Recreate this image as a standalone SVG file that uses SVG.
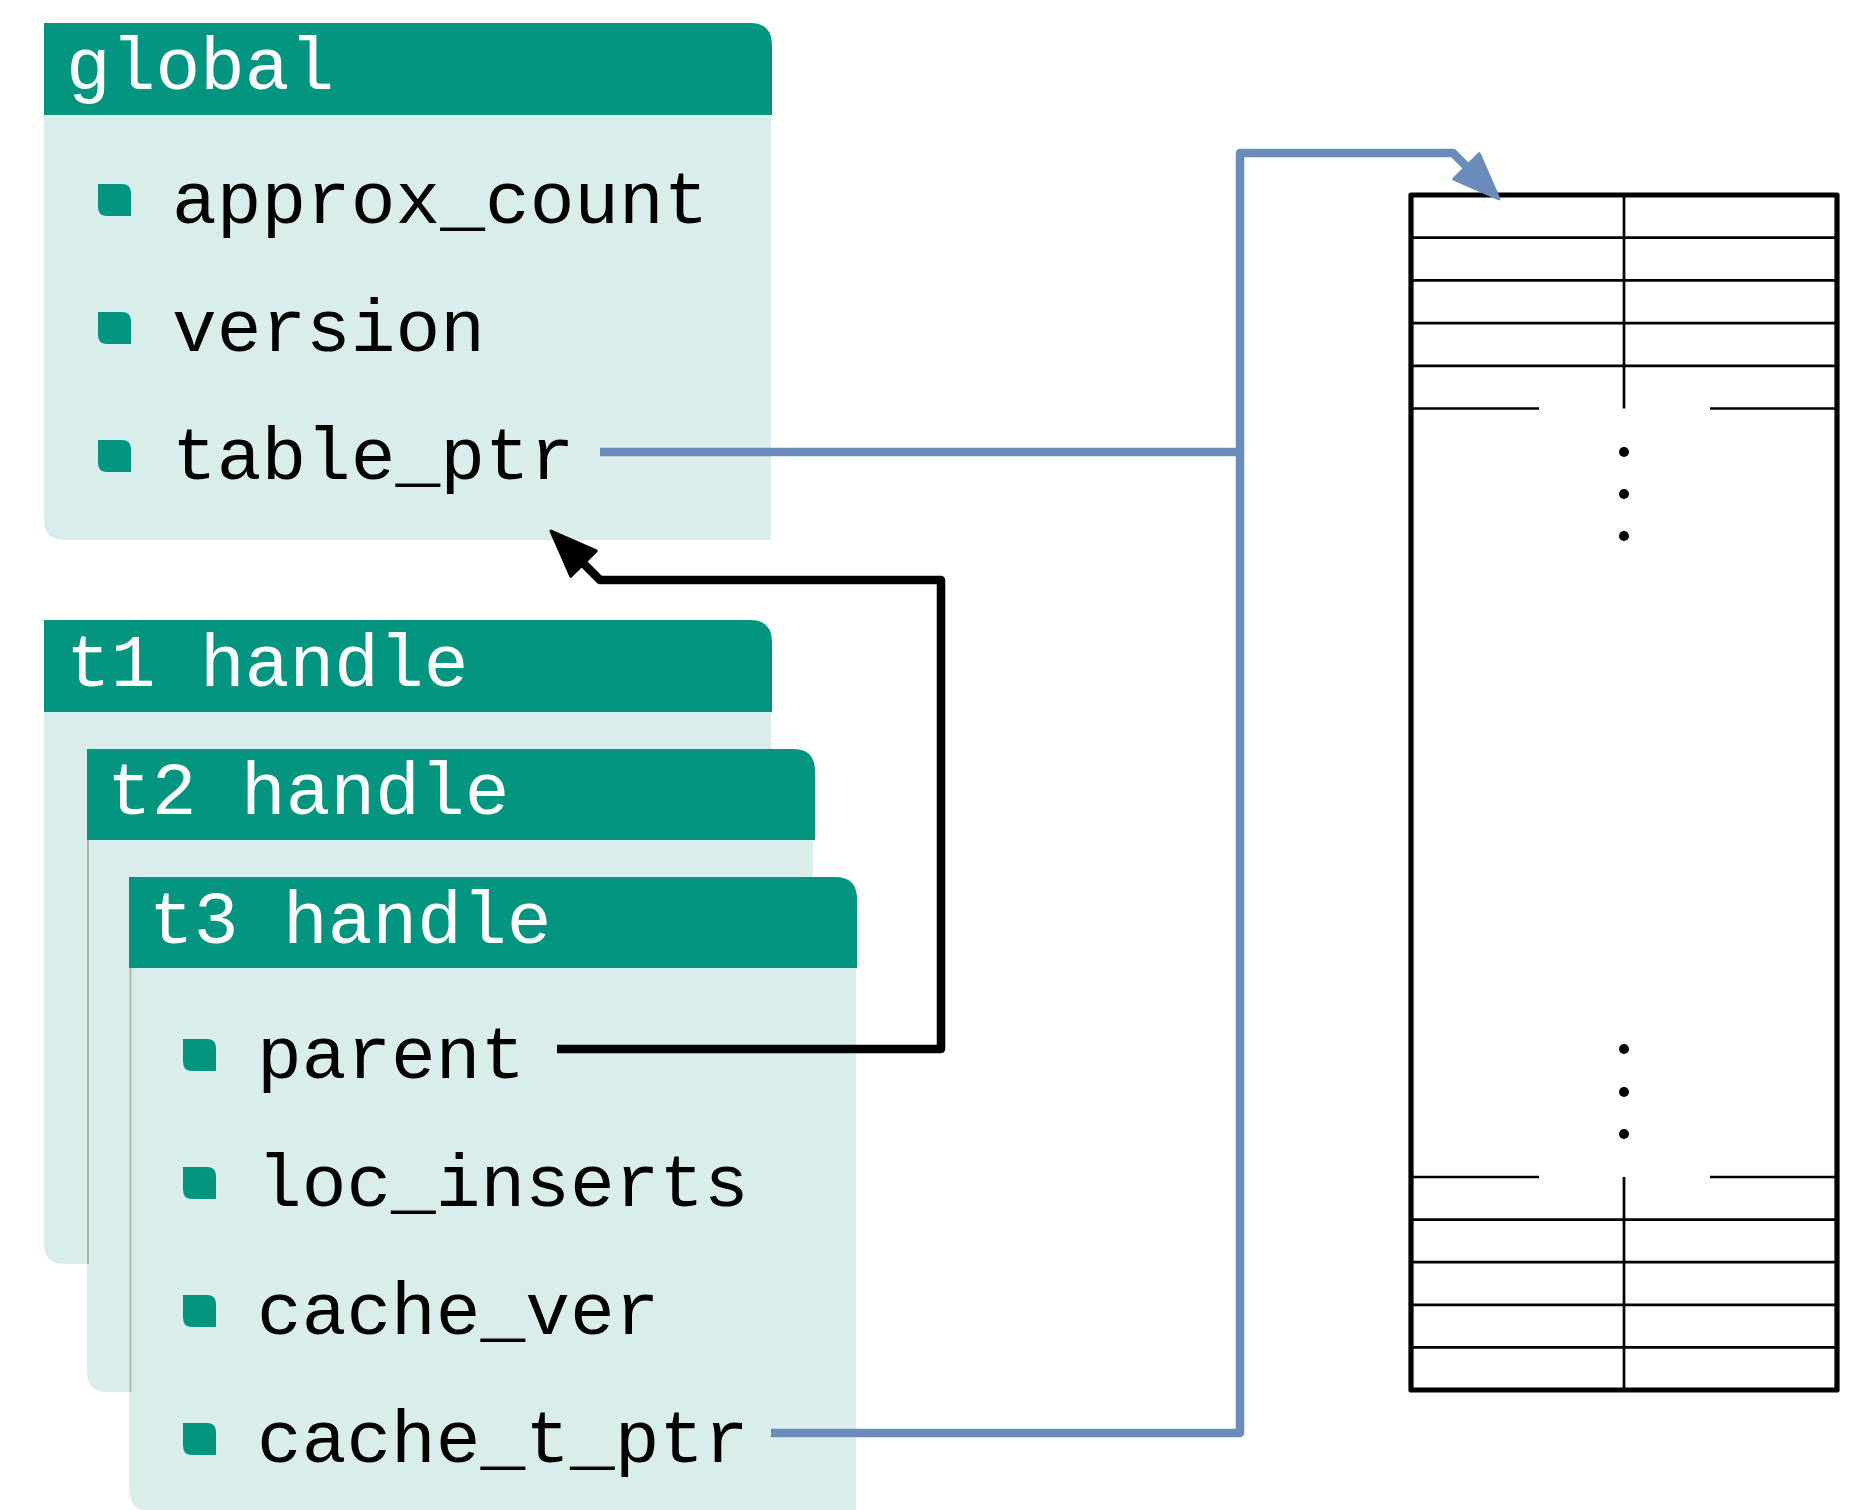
<svg xmlns="http://www.w3.org/2000/svg" width="1874" height="1510" viewBox="0 0 1874 1510">
<style>
.hdr{fill:#039580}
.body{fill:#d9eeea}
.shadow{stroke:#b5b5b5;stroke-width:2;fill:none}
.title{font-family:"Liberation Mono","DejaVu Sans Mono",monospace;font-size:74.5px;fill:#ffffff}
.item{font-family:"Liberation Mono","DejaVu Sans Mono",monospace;font-size:74.5px;fill:#000000}
.bul{fill:#039580}
.blue{fill:none;stroke:#6b8cba;stroke-width:8.5;stroke-linejoin:round}
.black{fill:none;stroke:#000000;stroke-width:8.5;stroke-linejoin:round}
.tbl{fill:none;stroke:#000000;stroke-width:2.7}
.tblo{fill:none;stroke:#000000;stroke-width:5.2;stroke-linejoin:round}
</style>
<defs>
<path id="bullet" d="M0,0 H24 Q33,0 33,9 V32 H9 Q0,32 0,23 Z"/>
<marker id="arrBlack" markerUnits="userSpaceOnUse" markerWidth="64" markerHeight="64" viewBox="-5 -27 64 54" refX="22" refY="0" orient="auto">
<path d="M0,-18 L46,0 L0,18 Z" fill="#000000" stroke="#000000" stroke-width="3" stroke-linejoin="round"/>
</marker>
<marker id="arrBlue" markerUnits="userSpaceOnUse" markerWidth="64" markerHeight="64" viewBox="-5 -27 64 54" refX="22" refY="0" orient="auto">
<path d="M0,-18 L46,0 L0,18 Z" fill="#6b8cba" stroke="#6b8cba" stroke-width="3" stroke-linejoin="round"/>
</marker>
</defs>
<rect width="1874" height="1510" fill="#ffffff"/>

<g id="global">
<path class="body" d="M44,115 H771 V540 H64 Q44,540 44,520 Z"/>
<path class="hdr" d="M44,115 V23 H750 Q772,23 772,45 V115 Z"/>
<text class="title" x="66" y="89">global</text>
<use href="#bullet" class="bul" x="98" y="184"/>
<text class="item" x="172" y="223">approx_count</text>
<use href="#bullet" class="bul" x="98" y="312"/>
<text class="item" x="172" y="351">version</text>
<use href="#bullet" class="bul" x="98" y="440"/>
<text class="item" x="172" y="479">table_ptr</text>
</g>

<g id="t1">
<path class="body" d="M44,712 H771 V1264 H64 Q44,1264 44,1244 Z"/>
<path class="hdr" d="M44,712 V620 H750 Q772,620 772,642 V712 Z"/>
<text class="title" x="66" y="686">t1 handle</text>
</g>

<g id="t2">
<path class="body" d="M87,840 H813 V1392 H107 Q87,1392 87,1372 Z"/>
<line class="shadow" x1="88" y1="840" x2="88" y2="1264"/>
<path class="hdr" d="M87,840 V749 H793 Q815,749 815,771 V840 Z"/>
<text class="title" x="107" y="814">t2 handle</text>
</g>

<g id="t3">
<path class="body" d="M129,968 H856 V1512 H153 Q129,1512 129,1488 Z"/>
<line class="shadow" x1="130.5" y1="968" x2="130.5" y2="1392"/>
<path class="hdr" d="M129,968 V877 H835 Q857,877 857,899 V968 Z"/>
<text class="title" x="149" y="943">t3 handle</text>
<use href="#bullet" class="bul" x="183" y="1039"/>
<text class="item" x="257" y="1078">parent</text>
<use href="#bullet" class="bul" x="183" y="1167"/>
<text class="item" x="257" y="1206">loc_inserts</text>
<use href="#bullet" class="bul" x="183" y="1295"/>
<text class="item" x="257" y="1334">cache_ver</text>
<use href="#bullet" class="bul" x="183" y="1423"/>
<text class="item" x="257" y="1462">cache_t_ptr</text>
</g>

<g id="table">
<line class="tbl" x1="1411" y1="237.7" x2="1837" y2="237.7"/>
<line class="tbl" x1="1411" y1="280.4" x2="1837" y2="280.4"/>
<line class="tbl" x1="1411" y1="323.1" x2="1837" y2="323.1"/>
<line class="tbl" x1="1411" y1="365.8" x2="1837" y2="365.8"/>
<line class="tbl" x1="1411" y1="408.5" x2="1539" y2="408.5"/>
<line class="tbl" x1="1710" y1="408.5" x2="1837" y2="408.5"/>
<line class="tbl" x1="1624" y1="195" x2="1624" y2="408.5"/>
<circle cx="1624" cy="452" r="5"/>
<circle cx="1624" cy="494" r="5"/>
<circle cx="1624" cy="536" r="5"/>
<circle cx="1624" cy="1049" r="5"/>
<circle cx="1624" cy="1092" r="5"/>
<circle cx="1624" cy="1134" r="5"/>
<line class="tbl" x1="1411" y1="1177" x2="1539" y2="1177"/>
<line class="tbl" x1="1710" y1="1177" x2="1837" y2="1177"/>
<line class="tbl" x1="1411" y1="1219.6" x2="1837" y2="1219.6"/>
<line class="tbl" x1="1411" y1="1262.2" x2="1837" y2="1262.2"/>
<line class="tbl" x1="1411" y1="1304.8" x2="1837" y2="1304.8"/>
<line class="tbl" x1="1411" y1="1347.4" x2="1837" y2="1347.4"/>
<line class="tbl" x1="1624" y1="1177" x2="1624" y2="1390"/>
<rect class="tblo" x="1411" y="195" width="426" height="1195"/>
</g>

<g id="connectors">
<path class="blue" d="M600,452 H1240"/>
<path class="blue" d="M771,1433 H1240 V153 H1453 L1482,182" marker-end="url(#arrBlue)"/>
<path class="black" d="M557,1049 H941 V580 H600 L568,548" marker-end="url(#arrBlack)"/>
</g>
</svg>
